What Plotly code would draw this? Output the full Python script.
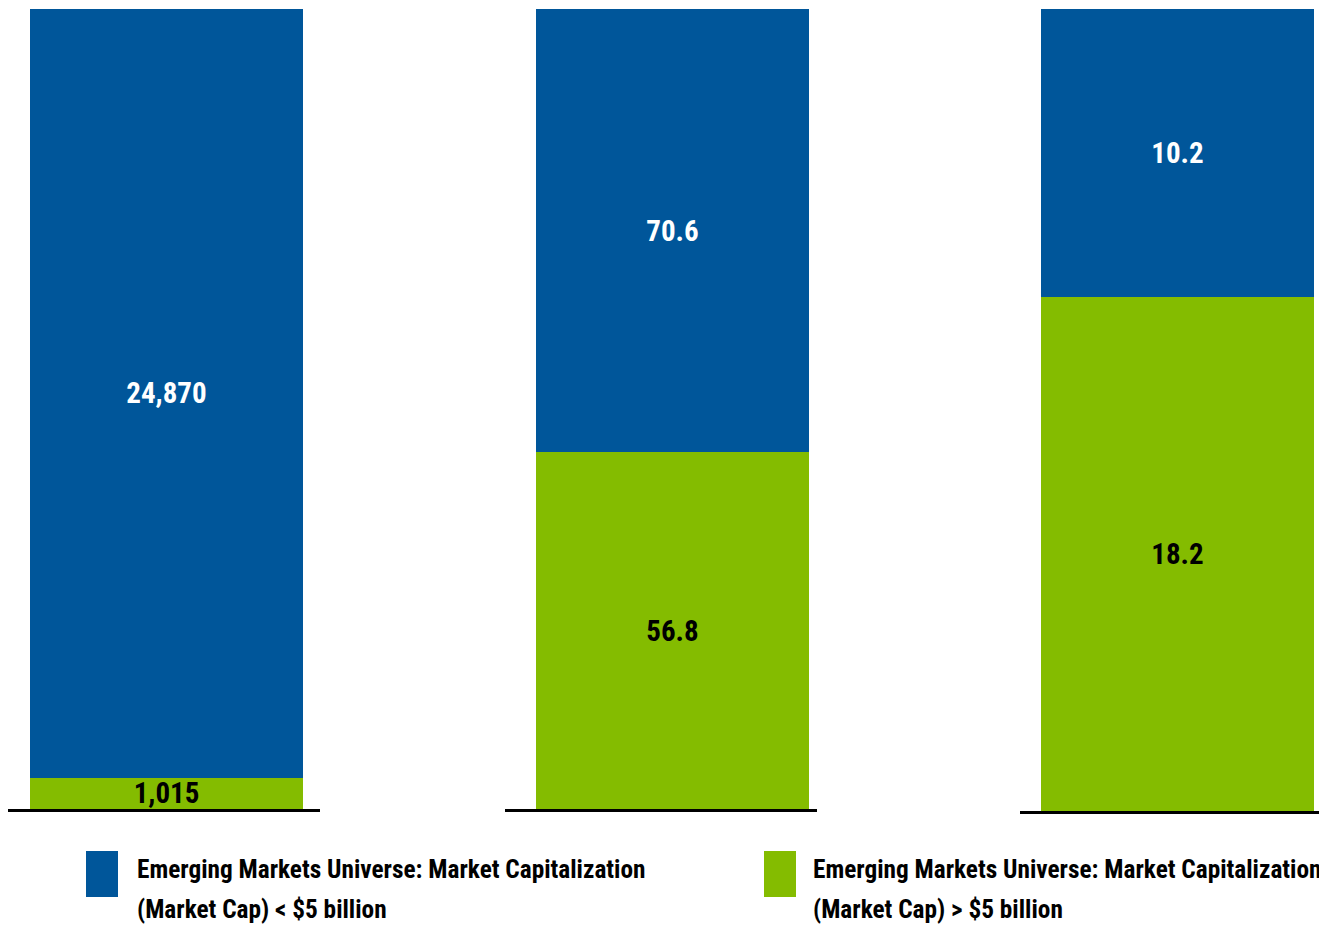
import plotly.graph_objects as go

# ---- data ----
groups = ["Group 1", "Group 2", "Group 3"]          # hidden category names
small_cap_values = [24870, 70.6, 10.2]              # Market Cap < $5 billion (blue, top)
large_cap_values = [1015, 56.8, 18.2]               # Market Cap > $5 billion (green, bottom)
small_cap_labels = ["24,870", "70.6", "10.2"]
large_cap_labels = ["1,015", "56.8", "18.2"]
legend_line1 = ["Emerging Markets Universe: Market Capitalization",
                "Emerging Markets Universe: Market Capitalization"]
legend_line2 = ["(Market Cap) < $5 billion", "(Market Cap) > $5 billion"]

BLUE = "#00569A"
GREEN = "#84BC00"
FONT = "Roboto Condensed, Open Sans Condensed, Arial Narrow, sans-serif"

# page body has an 8px margin; figure coords = screen coords - 8
W, H = 1319, 933

panels = [
    dict(x0=0, x1=312, center=158.5, bar_px=273, bottom=801),
    dict(x0=497, x1=809, center=664.5, bar_px=273, bottom=801),
    dict(x0=1012, x1=1319, center=1169.5, bar_px=273, bottom=803),
]
TOP = 1

fig = go.Figure()
layout = dict(
    width=W, height=H,
    margin=dict(l=0, r=0, t=0, b=0),
    paper_bgcolor="white", plot_bgcolor="white",
    barmode="stack", barnorm="percent",
    showlegend=False,
    hovermode=False,
)

for i, p in enumerate(panels):
    sfx = "" if i == 0 else str(i + 1)
    span = p["x1"] - p["x0"]
    frac = (p["center"] - p["x0"]) / span
    width = p["bar_px"] / span
    xa, ya = "x" + sfx, "y" + sfx
    fig.add_trace(go.Bar(
        x=[groups[i]], y=[large_cap_values[i]], xaxis=xa, yaxis=ya,
        marker=dict(color=GREEN, line=dict(width=0)), width=width,
        text=[large_cap_labels[i]], textposition="inside", insidetextanchor="middle",
        constraintext="none", cliponaxis=False,
        textfont=dict(family=FONT, size=29, color="black", weight="bold"),
    ))
    fig.add_trace(go.Bar(
        x=[groups[i]], y=[small_cap_values[i]], xaxis=xa, yaxis=ya,
        marker=dict(color=BLUE, line=dict(width=0)), width=width,
        text=[small_cap_labels[i]], textposition="inside", insidetextanchor="middle",
        constraintext="none", cliponaxis=False,
        textfont=dict(family=FONT, size=29, color="white", weight="bold"),
    ))
    layout["xaxis" + sfx] = dict(
        domain=[p["x0"] / W, p["x1"] / W], anchor=ya,
        range=[-frac, 1 - frac], showticklabels=False, ticks="",
        showgrid=False, zeroline=False,
        showline=True, linecolor="black", linewidth=3,
    )
    layout["yaxis" + sfx] = dict(
        domain=[1 - p["bottom"] / H, 1 - TOP / H], anchor=xa,
        range=[0, 100], showticklabels=False, ticks="",
        showgrid=False, zeroline=False, showline=False,
    )

# legend drawn as swatches + text
legend_x = [78, 756]
legend_text_x = [127, 803]
legend_colors = [BLUE, GREEN]
shapes, annotations = [], []
for k in range(2):
    x_px = legend_x[k]
    shapes.append(dict(type="rect", xref="paper", yref="paper",
                       x0=x_px / W, x1=(x_px + 32) / W,
                       y0=1 - 889 / H, y1=1 - 843 / H,
                       fillcolor=legend_colors[k], line=dict(width=0)))
    for line_text, y_px in ((legend_line1[k], 861), (legend_line2[k], 901)):
        annotations.append(dict(xref="paper", yref="paper", x=legend_text_x[k] / W, y=1 - y_px / H,
                                xanchor="left", yanchor="middle", align="left", showarrow=False,
                                text=line_text,
                                font=dict(family=FONT, size=25.3, color="black", weight="bold")))
layout["shapes"] = shapes
layout["annotations"] = annotations

fig.update_layout(**layout)
fig.write_html("out.html")
